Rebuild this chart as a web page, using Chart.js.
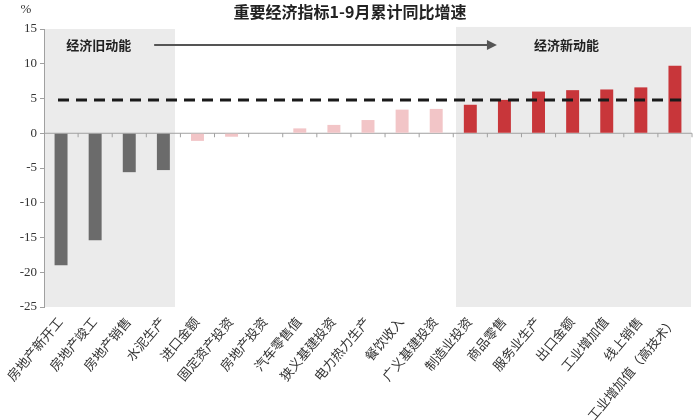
<!DOCTYPE html>
<html>
<head>
<meta charset="utf-8">
<script src="https://cdn.jsdelivr.net/npm/chart.js@4/dist/chart.umd.min.js"></script>
<style>
  body { margin: 0; background: #fff; }
  #wrap { width: 700px; height: 420px; }
</style>
</head>
<body>
<div id="wrap"><canvas id="growthChart" width="700" height="420"></canvas></div>
<script>
const categories = [
  "房地产新开工", "房地产竣工", "房地产销售", "水泥生产", "进口金额",
  "固定资产投资", "房地产投资", "汽车零售值", "狭义基建投资", "电力热力生产",
  "餐饮收入", "广义基建投资", "制造业投资", "商品零售", "服务业生产",
  "出口金额", "工业增加值", "线上销售", "工业增加值（高技术）"
];
const growth = [
  -19.0, -15.4, -5.6, -5.3, -1.1,
  -0.5, 0, 0.7, 1.2, 1.9,
  3.4, 3.5, 4.1, 4.8, 6.0,
  6.2, 6.3, 6.6, 9.7
];
const groups = [
  "old", "old", "old", "old", "mid",
  "mid", "mid", "mid", "mid", "mid",
  "mid", "mid", "new", "new", "new",
  "new", "new", "new", "new"
];
const yTicks = [15, 10, 5, 0, -5, -10, -15, -20, -25];
const gdpLine = 4.8;

const title = "重要经济指标1-9月累计同比增速";
const oldLabel = "经济旧动能";
const newLabel = "经济新动能";

const groupColors = { old: "#6b6b6b", mid: "#f2c5c7", new: "#c8363a" };
const cjk = "'Liberation Serif', 'Noto Sans CJK SC', serif";

// shaded panels, arrow, dashed line, zero axis and texts
const decorations = {
  id: "decorations",
  beforeDatasetsDraw(chart) {
    const ctx = chart.ctx;
    const x = chart.scales.x;
    const y = chart.scales.y;
    const area = chart.chartArea;
    ctx.save();
    ctx.fillStyle = "#ebebeb";
    const top = y.getPixelForValue(15);
    const bottom = y.getPixelForValue(-25);
    const leftEnd = x.getPixelForValue(3.34);
    ctx.fillRect(area.left + 1, top, leftEnd - area.left - 1, bottom - top);
    const rightStart = x.getPixelForValue(11.58);
    const rTop = y.getPixelForValue(15.3);
    ctx.fillRect(rightStart, rTop, area.right - 1 - rightStart, bottom - rTop);

    // zero line with category ticks
    const zeroY = y.getPixelForValue(0);
    ctx.strokeStyle = "#a0a0a0";
    ctx.lineWidth = 1;
    ctx.beginPath();
    ctx.moveTo(area.left, zeroY);
    ctx.lineTo(area.right, zeroY);
    for (let i = 0; i < categories.length; i++) {
      const px = x.getPixelForValue(i + 0.5);
      ctx.moveTo(px, zeroY);
      ctx.lineTo(px, zeroY + 4);
    }
    ctx.stroke();

    // arrow from old to new
    const arrowY = y.getPixelForValue(12.7);
    const ax1 = x.getPixelForValue(2.73);
    const ax2 = x.getPixelForValue(12.78);
    ctx.strokeStyle = "#555";
    ctx.fillStyle = "#555";
    ctx.lineWidth = 2;
    ctx.beginPath();
    ctx.moveTo(ax1, arrowY);
    ctx.lineTo(ax2 - 8, arrowY);
    ctx.stroke();
    ctx.beginPath();
    ctx.moveTo(ax2, arrowY);
    ctx.lineTo(ax2 - 10, arrowY - 5);
    ctx.lineTo(ax2 - 10, arrowY + 5);
    ctx.closePath();
    ctx.fill();

    ctx.fillStyle = "#222";
    ctx.font = "bold 13px 'Noto Sans CJK SC'";
    ctx.textBaseline = "middle";
    ctx.textAlign = "left";
    ctx.fillText(oldLabel, x.getPixelForValue(0.15), arrowY);
    ctx.fillText(newLabel, x.getPixelForValue(13.87), arrowY);
    ctx.restore();
  },
  afterDatasetsDraw(chart) {
    const ctx = chart.ctx;
    const x = chart.scales.x;
    const y = chart.scales.y;
    const area = chart.chartArea;
    const ly = y.getPixelForValue(gdpLine);
    ctx.save();
    ctx.strokeStyle = "#1a1a1a";
    ctx.lineWidth = 3;
    ctx.setLineDash([11, 7]);
    ctx.beginPath();
    ctx.moveTo(area.left + 14, ly);
    ctx.lineTo(area.right - 6, ly);
    ctx.stroke();
    ctx.restore();
  },
  afterDraw(chart) {
    const ctx = chart.ctx;
    ctx.save();
    ctx.fillStyle = "#222";
    ctx.textBaseline = "middle";
    ctx.textAlign = "center";
    ctx.font = "bold 16px 'Noto Sans CJK SC'";
    ctx.fillText(title, 350, 12);
    ctx.font = "13px 'Liberation Serif'";
    ctx.fillStyle = "#333";
    ctx.fillText("%", 26, 10);
    ctx.restore();
  }
};

new Chart(document.getElementById("growthChart"), {
  type: "bar",
  data: {
    labels: categories,
    datasets: [
      {
        data: growth,
        backgroundColor: groups.map(function (g) { return groupColors[g]; }),
        borderWidth: 0,
        barPercentage: 0.38,
        categoryPercentage: 1
      }
    ]
  },
  options: {
    responsive: false,
    animation: false,
    layout: { padding: { top: 29, right: 8, left: 0, bottom: 0 } },
    plugins: {
      legend: { display: false },
      tooltip: { enabled: false },
      title: { display: false }
    },
    scales: {
      x: {
        grid: { display: false },
        border: { display: false },
        ticks: {
          color: "#333",
          font: { family: cjk, size: 13 },
          minRotation: 50,
          maxRotation: 50,
          autoSkip: false,
          padding: 0
        },
        afterFit: function (scale) { scale.height = 113; }
      },
      y: {
        min: -25,
        max: 15,
        afterBuildTicks: function (scale) {
          scale.ticks = yTicks.map(function (v) { return { value: v }; });
        },
        grid: { drawOnChartArea: false, drawTicks: true, tickLength: 4, color: "#a0a0a0" },
        border: { display: true, color: "#a0a0a0" },
        ticks: {
          color: "#333",
          font: { family: "'Liberation Serif', serif", size: 13 },
          padding: 3
        },
        afterFit: function (scale) { scale.width = 44; }
      }
    }
  },
  plugins: [decorations]
});
</script>
</body>
</html>
